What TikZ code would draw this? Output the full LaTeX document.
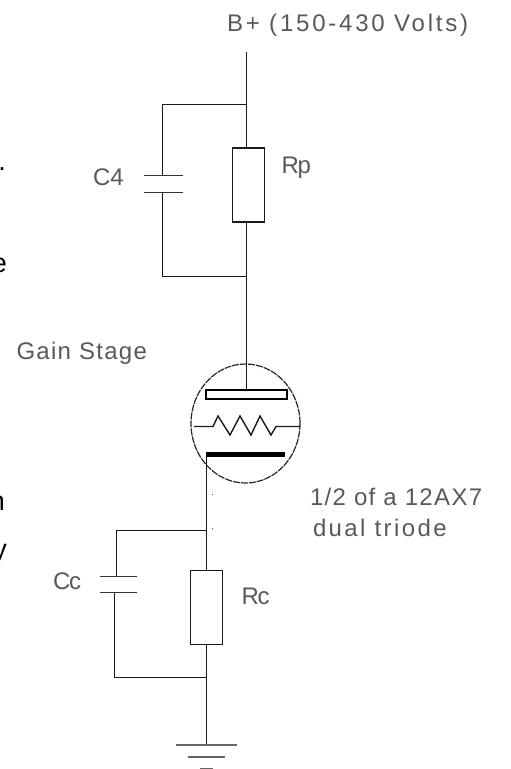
\documentclass[tikz,border=0pt]{standalone}
\usepackage{fontspec}
\usetikzlibrary{shapes.geometric}
\setmainfont{Liberation Sans}
\tikzset{
  wire/.style={line width=1.4pt,color=black!90},
  plate/.style={line width=1.4pt,color=black!80},
  resbox/.style={draw=black!90,line width=1.4pt,fill=white,minimum width=32pt,minimum height=74pt,inner sep=0pt,outer sep=0pt},
  tubeshape/.style={draw=black!85,ellipse,line width=1.2pt,dash pattern=on 7pt off 1pt,minimum width=109pt,minimum height=119pt,inner sep=0pt,outer sep=0pt},
  cadlabel/.style={inner sep=0pt,outer sep=0pt,anchor=base west,text=black!65,font=\fontsize{24}{24}\selectfont\addfontfeature{LetterSpace=#1}},
  cuttext/.style={inner sep=0pt,outer sep=0pt,anchor=base east,font=\fontsize{27}{27}\selectfont},
}
\begin{document}
\begin{tikzpicture}[x=1pt,y=-1pt]
\useasboundingbox (0,0) rectangle (511,769);
\fill[white] (0,0) rectangle (511,769);
\begin{scope}
\clip (0,0) rectangle (511,769);
\node[cuttext] (cutA) at (6,170) {.};
\node[cuttext] (cutB) at (7,272) {e};
\node[cuttext] (cutC) at (5,510) {n};
\node[cuttext] (cutD) at (7,558) {y};
\end{scope}
% junctions and free ends
\coordinate (top) at (246.5,52);
\coordinate (jt) at (246.5,104.5);
\coordinate (jb) at (246.5,276.5);
\coordinate (ct) at (162.5,104.5);
\coordinate (cb) at (162.5,276.5);
\node[resbox] (Rp) at (248.5,185) {};
\node[resbox] (Rc) at (206.5,607.5) {};
% C4
\coordinate (c4at) at (162.5,175.5);
\coordinate (c4bt) at (162.5,192.5);
\draw[plate] (143.5,175.5) -- (183,175.5);
\draw[plate] (143.5,192.5) -- (183,192.5);
\draw[wire] (top) -- (jt);
\draw[wire] (jt) -- (jt |- Rp.north);
\draw[wire] (jt) -- (ct) -- (c4at);
\draw[wire] (c4bt) -- (cb) -- (jb);
\draw[wire] (jb |- Rp.south) -- (jb);
% tube
\node[tubeshape] (tube) at (245.5,423.5) {};
\node[draw=black,line width=1.4pt,fill=white,minimum width=81pt,minimum height=9pt,inner sep=0pt,outer sep=0pt] (anode) at (246.5,394.5) {};
\draw[wire] (jb) -- (anode.north -| jb);
\draw[wire] (194,426.5) -- (213,426.5) -- (218,416) -- (230,435) -- (240,416) -- (251,435) -- (260,416) -- (271,435) -- (276,426.5) -- (300,426.5);
\node[fill=black,minimum width=79pt,minimum height=5pt,inner sep=0pt,outer sep=0pt] (cathode) at (245.5,454.5) {};
\coordinate (kc) at (206.5,454.5);
\coordinate (jk) at (206.5,530.5);
\coordinate (jg) at (206.5,677.5);
\coordinate (gnd) at (206.5,745);
\draw[wire] (kc) -- (jk);
\draw[wire] (jk) -- (Rc.north);
\draw[wire] (Rc.south) -- (jg) -- (gnd);
% Cc
\coordinate (cca) at (116.5,530.5);
\coordinate (ccat) at (116.5,576.5);
\coordinate (ccbt) at (114.5,592.5);
\coordinate (ccb) at (114.5,677.5);
\draw[wire] (jk) -- (cca) -- (ccat);
\draw[wire] (ccbt) -- (ccb) -- (jg);
\draw[plate] (100,576.5) -- (137,576.5);
\draw[plate] (100,592.5) -- (137,592.5);
% stray dots
\fill[black!70] (211.5,493.5) rectangle (213,495);
\fill[black!70] (211.5,527.5) rectangle (213,529);
% ground
\draw[line width=1.6pt,color=black!60] (176,745) -- (237,745);
\draw[line width=1.6pt,color=black!60] (188,757) -- (225,757);
\draw[line width=1.6pt,color=black!60] (200,768.6) -- (213,768.6);
% labels
\node[cadlabel=11.6] (lb) at (227,31) {B+ (150-430 Volts)};
\node[cadlabel=0] (lc4) at (93,185) {C4};
\node[cadlabel=-5] (lrp) at (281.5,173) {Rp};
\node[cadlabel=5.4] (lg) at (16.5,359) {Gain Stage};
\node[cadlabel=5.6] (lh) at (310,505) {1/2 of a 12AX7};
\node[cadlabel=10] (ld) at (313,536) {dual triode};
\node[cadlabel=-5] (lcc) at (53,589) {Cc};
\node[cadlabel=-5] (lrc) at (241.5,604) {Rc};
\end{tikzpicture}
\end{document}
